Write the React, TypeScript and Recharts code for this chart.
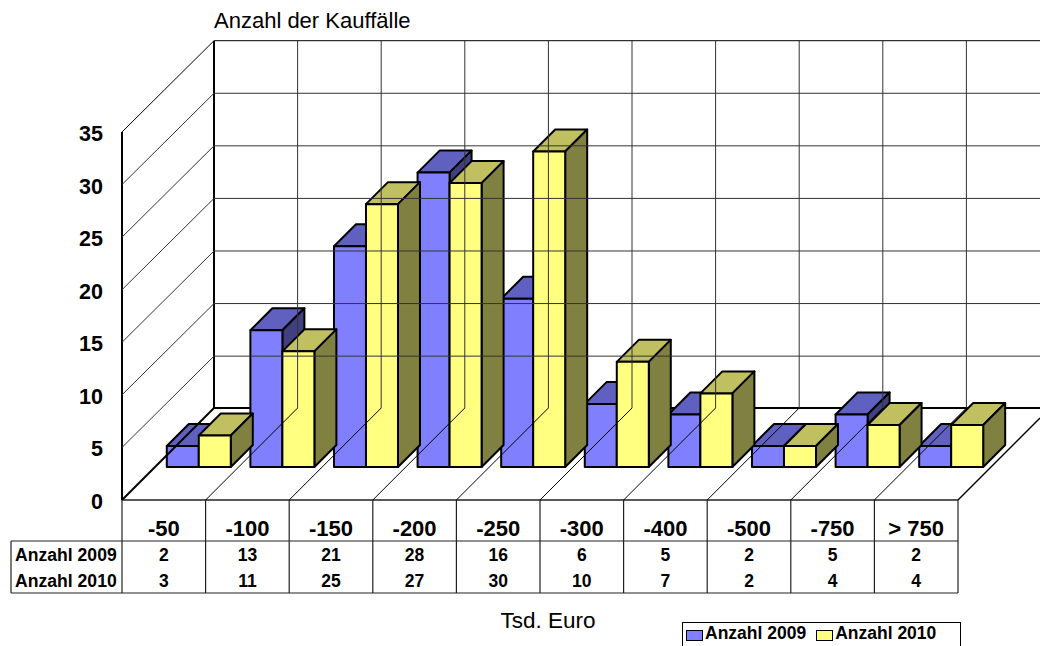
import { BarChart, Bar, XAxis, YAxis, Legend } from 'recharts';

const categories = ['-50', '-100', '-150', '-200', '-250', '-300', '-400', '-500', '-750', '> 750'];
const anzahl2009 = [2, 13, 21, 28, 16, 6, 5, 2, 5, 2];
const anzahl2010 = [3, 11, 25, 27, 30, 10, 7, 2, 4, 4];
const yTicks = [0, 5, 10, 15, 20, 25, 30, 35];

const data = categories.map((name, i) => ({ name, a2009: anzahl2009[i], a2010: anzahl2010[i] }));

const FONT = '"Liberation Sans", Arial, sans-serif';
const LEFT = 122;
const RIGHT = 958;
const FLOOR = 500;
const WALL = 92; // depth of the floor
const COL = (RIGHT - LEFT) / categories.length;
const SHIFT_X = 34.5;
const SHIFT_Y = 33;
const DEPTH = 22;

const YTick = ({ y, payload }: any) => (
  <g>
    <text x={103} y={y + 9} textAnchor="end" fontFamily={FONT} fontWeight="bold" fontSize={21.5} fill="#000">
      {payload.value}
    </text>
    {payload.value > 0 && (
      <polyline
        points={`${LEFT},${y} ${LEFT + WALL},${y - WALL + 0.7} 1040,${y - WALL + 0.7}`}
        fill="none"
        stroke={payload.value === 35 ? '#000' : '#333'}
        strokeWidth={1}
      />
    )}
  </g>
);

const XTick = ({ x, index, payload }: any) => {
  const left = x - COL / 2;
  return (
    <g>
      <line x1={left + WALL} y1={FLOOR - WALL} x2={left + WALL} y2={41} stroke={index === 0 ? '#000' : '#333'} strokeWidth={index === 0 ? 2 : 1} />
      <line x1={left} y1={FLOOR} x2={left + WALL} y2={FLOOR - WALL} stroke="#000" strokeWidth={index === 0 ? 2 : 1} />
      <line x1={left} y1={FLOOR} x2={left} y2={593} stroke="#222" strokeWidth={1.2} />
      {index === categories.length - 1 && (
        <>
          <line x1={RIGHT} y1={FLOOR} x2={RIGHT} y2={593} stroke="#222" strokeWidth={1.2} />
          <line x1={RIGHT} y1={FLOOR} x2={1040} y2={FLOOR - WALL + 10} stroke="#000" strokeWidth={1.5} />
        </>
      )}
      <text x={x} y={536} textAnchor="middle" fontFamily={FONT} fontWeight="bold" fontSize={22} fill="#000">
        {payload.value}
      </text>
      <text x={x} y={561} textAnchor="middle" fontFamily={FONT} fontWeight="bold" fontSize={17.5} fill="#000">
        {anzahl2009[index]}
      </text>
      <text x={x} y={587} textAnchor="middle" fontFamily={FONT} fontWeight="bold" fontSize={17.5} fill="#000">
        {anzahl2010[index]}
      </text>
    </g>
  );
};

const Bar3D = ({ x, y, width, height, front, top, side }: any) => {
  const bx = x + SHIFT_X;
  const by = y - SHIFT_Y;
  return (
    <g stroke="#000" strokeWidth={2} strokeLinejoin="round">
      <polygon fill={top} points={`${bx},${by} ${bx + DEPTH},${by - DEPTH} ${bx + width + DEPTH},${by - DEPTH} ${bx + width},${by}`} />
      <polygon fill={side} points={`${bx + width},${by} ${bx + width + DEPTH},${by - DEPTH} ${bx + width + DEPTH},${by + height - DEPTH} ${bx + width},${by + height}`} />
      <rect x={bx} y={by} width={width} height={height} fill={front} />
    </g>
  );
};

const LegendBox = ({ payload }: any) => (
  <div
    style={{
      boxSizing: 'border-box',
      width: 279,
      height: 40,
      border: '1.5px solid #000',
      display: 'flex',
      paddingLeft: 3,
      paddingTop: 0,
      fontFamily: FONT,
      fontWeight: 'bold',
      fontSize: 17.5,
      lineHeight: '20px',
      color: '#000',
    }}
  >
    {(payload || []).map((item: any) => (
      <div key={item.value} style={{ display: 'flex', alignItems: 'flex-start', marginRight: 10 }}>
        <span style={{ boxSizing: 'border-box', width: 17, height: 11, marginTop: 7, marginRight: 2, background: item.color, border: '1.5px solid #000' }} />
        <span>{item.value}</span>
      </div>
    ))}
  </div>
);

export default function App() {
  return (
    <div style={{ position: 'absolute', left: 0, top: 0, width: 1040, height: 646, overflow: 'hidden', background: '#fff' }}>
      <BarChart
        width={1040}
        height={646}
        data={data}
        margin={{ top: 132, right: 82, bottom: 0, left: 0 }}
        barCategoryGap="12.3%"
        barGap={0}
      >
        <XAxis dataKey="name" height={146} interval={0} axisLine={false} tickLine={false} tick={<XTick />} />
        <YAxis width={122} domain={[0, 35]} ticks={yTicks} interval={0} axisLine={false} tickLine={false} tick={<YTick />} />

        {/* walls and table frame */}
        <line x1={LEFT} y1={132} x2={LEFT} y2={FLOOR} stroke="#000" strokeWidth={2} />
        <line x1={LEFT} y1={FLOOR} x2={RIGHT} y2={FLOOR} stroke="#222" strokeWidth={1.5} />
        <line x1={LEFT + WALL} y1={FLOOR - WALL} x2={1040} y2={FLOOR - WALL} stroke="#000" strokeWidth={2} />
        <line x1={11} y1={541} x2={RIGHT} y2={541} stroke="#222" strokeWidth={1.2} />
        <line x1={11} y1={593} x2={RIGHT} y2={593} stroke="#222" strokeWidth={1.2} />
        <line x1={11} y1={541} x2={11} y2={593} stroke="#222" strokeWidth={1.2} />
        <text x={15} y={561} fontFamily={FONT} fontWeight="bold" fontSize={17.6} fill="#000">Anzahl 2009</text>
        <text x={15} y={587} fontFamily={FONT} fontWeight="bold" fontSize={17.6} fill="#000">Anzahl 2010</text>
        <text x={214} y={28} fontFamily={FONT} fontSize={22} fill="#000">Anzahl der Kauffälle</text>
        <text x={548} y={628} textAnchor="middle" fontFamily={FONT} fontSize={22.5} fill="#000">Tsd. Euro</text>

        <Bar dataKey="a2009" name="Anzahl 2009" fill="#8080ff" isAnimationActive={false}
          shape={(props: any) => <Bar3D {...props} front="#8080ff" top="#6060c0" side="#404080" />} />
        <Bar dataKey="a2010" name="Anzahl 2010" fill="#ffff80" isAnimationActive={false}
          shape={(props: any) => <Bar3D {...props} front="#ffff80" top="#c0c060" side="#808040" />} />

        <Legend
          layout="vertical"
          align="center"
          verticalAlign="middle"
          content={<LegendBox />}
          wrapperStyle={{ left: 682, top: 622, width: 279, bottom: 'auto', right: 'auto' }}
        />
      </BarChart>
    </div>
  );
}
